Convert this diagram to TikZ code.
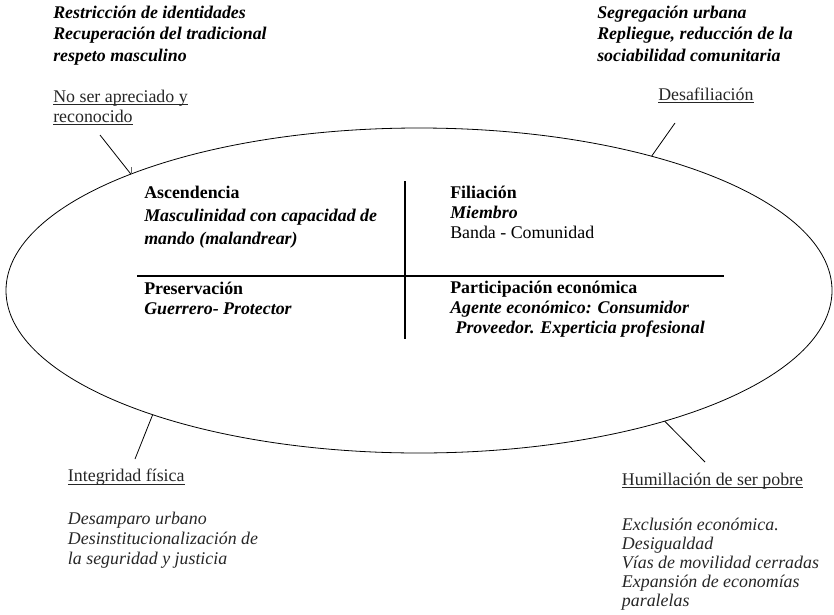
\documentclass[tikz,border=0pt]{standalone}
\usepackage{fontspec}
\setmainfont{Liberation Serif}
\usetikzlibrary{shapes.geometric}
\newcommand\ulbl[1]{\setbox0\hbox{#1}\rlap{\rule[-2.4pt]{\wd0}{0.7pt}}\box0}

\tikzset{
  txt/.style={anchor=base west, align=left, inner sep=0pt},
  note/.style={txt, font=\fontsize{13.4}{16}\selectfont\bfseries\itshape},
  lbl/.style={txt, text=black!85, font=\fontsize{13.4}{15}\selectfont},
  quad/.style={txt, font=\fontsize{13.4}{15}\selectfont\bfseries},
  cause/.style={txt, text=black!85, font=\fontsize{13.4}{15}\selectfont\itshape},
  ring/.style={draw, ellipse, line width=0.6pt, inner sep=0pt, outer sep=0pt,
    minimum width=619.5pt, minimum height=243.75pt},
  bar/.style={line width=1.6pt},
  link/.style={line width=0.6pt},
}

\begin{document}
\begin{tikzpicture}[x=0.75pt,y=-0.75pt]
  \useasboundingbox (0,0) rectangle (834,614);
  \node[ring] (ell) at (419,290.5) {};
  % nodes sit on the baseline of their last line
  \draw
    (53,61) node[note] (restr) {Restricción de identidades\\Recuperación del tradicional\\respeto masculino}
    (597,61) node[note] (segr) {Segregación urbana\\Repliegue, reducción de la\\sociabilidad comunitaria}
    (53,122) node[lbl] (apre) {\ulbl{No ser apreciado y}\\\ulbl{reconocido}}
    (658,100) node[lbl] (desaf) {\ulbl{Desafiliación}}
    (144,244.3) node[quad, font=\fontsize{13.4}{17}\selectfont\bfseries] (asc) {Ascendencia\\\textit{Masculinidad con capacidad de}\\\textit{mando (malandrear)}}
    (144,314.3) node[quad] (pres) {Preservación\\\textit{Guerrero- Protector}}
    (450,238.3) node[quad] (fil) {Filiación\\\textit{Miembro}\\\textmd{Banda - Comunidad}}
    (450,333.3) node[quad] (part) {Participación económica\\\textit{Agente económico: Consumidor}\\\hspace*{4pt}\textit{Proveedor. Experticia profesional}}
    (67.7,481.7) node[lbl] (integ) {\ulbl{Integridad física}}
    (67.7,564.3) node[cause] (desamp) {Desamparo urbano\\Desinstitucionalización de\\la seguridad y justicia}
    (621.7,485) node[lbl] (humil) {\ulbl{Humillación de ser pobre}}
    (621.7,606.7) node[cause, font=\fontsize{13.4}{14.25}\selectfont\itshape] (excl) {Exclusión económica.\\Desigualdad\\Vías de movilidad cerradas\\Expansión de economías\\paralelas};
  % cross inside the ring
  \coordinate (vtop) at (405,181);
  \coordinate (vbot) at (405,339);
  \coordinate (hl) at (137,276);
  \coordinate (hr) at (724,276);
  \draw[bar] (vtop) -- (vbot);
  \draw[bar] (hl) -- (hr);
  % leaders from the labels to the ring
  \coordinate (apreC) at (100,135);
  \coordinate (desafC) at (675,123);
  \coordinate (integC) at (135,459);
  \coordinate (humilC) at (705,462);
  \begin{scope}[link]
    \draw (apreC) to (ell.158.7);
    \draw[black!60, line width=0.4pt] (ell.158.7) -- ++(0,-7);
    \draw (desafC) to (ell.30.1);
    \draw (integC) to (ell.205.9);
    \draw (humilC) to (ell.332.2);
  \end{scope}
\end{tikzpicture}
\end{document}
